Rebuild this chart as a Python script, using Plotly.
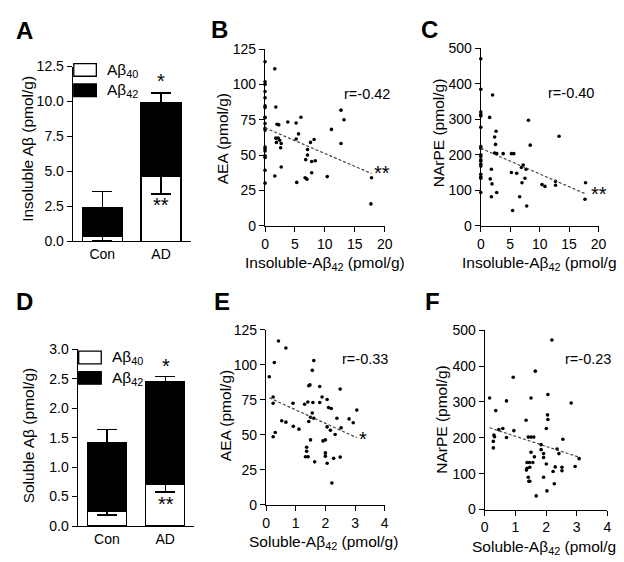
import plotly.graph_objects as go

W, H = 624, 562
FONT = "Liberation Sans, Arial, sans-serif"

# ---------------- data ----------------
groups = ["Con", "AD"]
# Panel A: insoluble Abeta (stacked segments, pmol/g)
insol_ab40 = [0.35, 4.68]
insol_ab40_err = [0.28, 1.30]
insol_ab42 = [2.03, 5.22]
insol_ab42_err = [1.18, 0.70]
# Panel D: soluble Abeta
sol_ab40 = [0.25, 0.70]
sol_ab40_err = [0.06, 0.12]
sol_ab42 = [1.16, 1.75]
sol_ab42_err = [0.23, 0.09]

# Panel B: AEA vs insoluble Abeta42
B_x = [0]*19 + [1.63, 1.8, 2.0, 2.3, 1.8, 2.2, 2.45, 1.9, 2.7, 2.6, 2.7, 1.63, 3.8, 5.2, 6.0, 5.2, 5.6,
                7.6, 8.2, 7.1, 7.1, 6.8, 7.8, 8.4, 7.8, 6.7, 7.0, 5.3, 10.4, 11.1, 12.7, 13.2, 12.7, 17.8, 17.7]
B_y = [116, 101.8, 100, 95, 90.5, 84.8, 83.6, 76.8, 76.4, 72.3, 68.9, 67.7, 55.7, 54.5, 53, 49.5, 48.4, 39.3, 30.2,
       111, 84, 71.8, 71.4, 62, 62, 60.5, 59, 58.2, 55.2, 41.6, 35.2, 73.4, 72.7, 76.8, 61.4, 65,
       59, 61, 54, 50, 46.8, 45.5, 46, 37.5, 34, 33, 30.7, 34.8, 68.2, 81.8, 75, 58.2, 34, 15.5]
B_trend_x = [0, 17.8]
B_trend_y = [69.3, 37.0]

# Panel C: NArPE vs insoluble Abeta42
C_x = [0]*18 + [2.0, 1.5, 2.6, 2.35, 2.5, 2.35, 2.7, 3.8, 5.2, 5.6, 1.8, 1.6, 1.9, 2.7, 1.8, 8.1, 8.4, 13.3,
                5.2, 6.1, 7.2, 6.9, 7.7, 7.5, 7.0, 6.6, 5.4, 7.8, 10.4, 10.9, 12.7, 12.7, 17.8, 17.7]
C_y = [470, 384, 320, 313, 309, 277, 223, 218, 200, 195, 186, 182, 173, 168, 145, 138, 134, 94,
       368, 305, 266, 250, 229, 205, 203, 203, 203, 203, 159, 132, 118, 94, 82, 297, 227, 252,
       150, 148, 171, 164, 159, 134, 121, 82, 43, 56, 116, 111, 125, 114, 121, 75]
C_trend_x = [0, 17.65]
C_trend_y = [218, 91]

# Panel E: AEA vs soluble Abeta42
E_x = [0.42, 0.67, 0.28, 0.11, 0.24, 0.24, 0.53, 0.67, 0.91, 0.92, 1.11, 0.31, 0.24, 1.61, 1.56, 1.44, 1.48,
       1.30, 1.41, 1.58, 1.56, 1.50, 1.61, 1.44, 1.81, 1.89, 1.81, 2.06, 2.11, 2.20, 2.50, 2.39, 2.53, 2.06,
       2.17, 2.33, 3.06, 2.80, 2.94, 1.50, 1.92, 2.00, 1.37, 1.37, 1.33, 1.42, 2.00, 2.00, 1.64, 2.06, 2.28,
       2.50, 2.22]
E_y = [117, 112, 101.6, 91.4, 77, 72.5, 60, 59, 72.5, 56, 54, 51.6, 48.6, 103, 96, 85, 85.6,
       71.8, 73.4, 73, 65.5, 62.5, 61.8, 59.5, 84.5, 77, 73, 75.2, 69.4, 68.7, 82.6, 61.8, 54.9, 55.6,
       53.2, 50.2, 67.6, 61.3, 58.6, 46.3, 45.6, 46.3, 41, 38.2, 34.3, 34.3, 37, 34.7, 30.6, 29.6, 33.1,
       34, 15.5]
E_trend_x = [0.11, 3.06]
E_trend_y = [76.4, 47.9]

# Panel F: NArPE vs soluble Abeta42
F_x = [2.19, 1.65, 0.93, 0.16, 0.71, 1.51, 2.06, 2.82, 0.36, 2.05, 2.06, 1.35, 2.01, 0.46, 0.59, 0.95,
       0.30, 0.32, 0.28, 0.28, 0.71, 1.42, 1.51, 1.60, 2.55, 1.84, 1.84, 2.36, 2.42, 1.51, 1.92, 1.92,
       1.62, 1.46, 1.57, 1.38, 1.38, 1.47, 1.36, 2.01, 2.30, 2.23, 2.52, 2.52, 2.95, 3.08, 1.42, 1.44,
       1.47, 1.92, 2.27, 2.03, 1.68]
F_y = [473, 386, 369, 311, 303, 311, 321, 297, 276, 264, 251, 249, 226, 223, 226, 220,
       208, 203, 190, 172, 201, 202, 202, 202, 196, 181, 167, 169, 156, 160, 156, 145,
       147, 131, 131, 131, 115, 118, 110, 127, 119, 106, 118, 108, 120, 142, 90, 79,
       79, 90, 72, 52, 38]
F_trend_x = [0.16, 3.08]
F_trend_y = [228, 146]

# ---------------- helpers ----------------
def dx(a, b):
    return [a / W, b / W]

def dy(top, bottom):
    return [1 - bottom / H, 1 - top / H]

def px(x):
    return x / W

def py(y):
    return 1 - y / H

axis_common = dict(showline=True, linecolor="black", linewidth=1.3, ticks="outside", ticklen=5,
                   tickwidth=1.3, tickcolor="black", showgrid=False, zeroline=False,
                   tickfont=dict(family=FONT, size=14, color="black"), fixedrange=True)

fig = go.Figure()

bar_line = dict(color="black", width=1.3)

def add_bars(ab40, ab40_err, ab42, ab42_err, xa, ya, wid):
    fig.add_trace(go.Bar(x=groups, y=ab40, name="Aβ40", marker=dict(color="white", line=bar_line),
                         width=wid, xaxis=xa, yaxis=ya, showlegend=False,
                         error_y=dict(type="data", symmetric=False, array=[0, 0], arrayminus=ab40_err,
                                      color="black", thickness=1.3, width=10)))
    fig.add_trace(go.Bar(x=groups, y=ab42, name="Aβ42", marker=dict(color="black", line=bar_line),
                         width=wid, xaxis=xa, yaxis=ya, showlegend=False,
                         error_y=dict(type="data", symmetric=False, array=ab42_err, arrayminus=[0, 0],
                                      color="black", thickness=1.3, width=10)))

add_bars(insol_ab40, insol_ab40_err, insol_ab42, insol_ab42_err, "x", "y", 0.68)
add_bars(sol_ab40, sol_ab40_err, sol_ab42, sol_ab42_err, "x4", "y4", 0.67)

def add_scatter(xs, ys, tx, ty, xa, ya):
    fig.add_trace(go.Scatter(x=xs, y=ys, mode="markers", xaxis=xa, yaxis=ya, showlegend=False,
                             cliponaxis=False, marker=dict(color="black", size=3.6)))
    fig.add_trace(go.Scatter(x=tx, y=ty, mode="lines", xaxis=xa, yaxis=ya, showlegend=False,
                             cliponaxis=False, line=dict(color="#444", width=1.2, dash="3px,2px")))

add_scatter(B_x, B_y, B_trend_x, B_trend_y, "x2", "y2")
add_scatter(C_x, C_y, C_trend_x, C_trend_y, "x3", "y3")
add_scatter(E_x, E_y, E_trend_x, E_trend_y, "x5", "y5")
add_scatter(F_x, F_y, F_trend_x, F_trend_y, "x6", "y6")

cat_axis = dict(axis_common, ticks="", type="category", range=[-0.5, 1.5])

fig.update_layout(
    width=W, height=H, margin=dict(l=0, r=0, t=0, b=0),
    paper_bgcolor="white", plot_bgcolor="white", barmode="stack",
    font=dict(family=FONT, color="black"),
    xaxis=dict(cat_axis, domain=dx(62, 182), anchor="y"),
    yaxis=dict(axis_common, domain=dy(52, 232), anchor="x", range=[0, 12.5], dtick=2.5, tickformat=".1f"),
    xaxis2=dict(axis_common, domain=dx(258, 380), anchor="y2", range=[0, 20], dtick=5),
    yaxis2=dict(axis_common, domain=dy(34, 216), anchor="x2", range=[0, 125], dtick=25),
    xaxis3=dict(axis_common, domain=dx(478, 598), anchor="y3", range=[0, 20], dtick=5),
    yaxis3=dict(axis_common, domain=dy(33, 216), anchor="x3", range=[0, 500], dtick=100),
    xaxis4=dict(cat_axis, domain=dx(67, 186), anchor="y4"),
    yaxis4=dict(axis_common, domain=dy(343, 525), anchor="x4", range=[0, 3.0], dtick=0.5, tickformat=".1f"),
    xaxis5=dict(axis_common, domain=dx(259, 380), anchor="y5", range=[0, 4], dtick=1),
    yaxis5=dict(axis_common, domain=dy(323, 503), anchor="x5", range=[0, 125], dtick=25),
    xaxis6=dict(axis_common, domain=dx(482, 607), anchor="y6", range=[0, 4], dtick=1),
    yaxis6=dict(axis_common, domain=dy(323.5, 508), anchor="x6", range=[0, 500], dtick=100),
)

ann = []
def text(x, y, s, size=15.5, angle=0, xanchor="center"):
    ann.append(dict(x=px(x), y=py(y), xref="paper", yref="paper", text=s, showarrow=False,
                    textangle=angle, xanchor=xanchor, yanchor="middle",
                    font=dict(family=FONT, size=size, color="black")))

# panel letters
for letter, (lx, ly) in {"A": (13, 15), "B": (212, 14), "C": (426, 14),
                         "D": (13, 294), "E": (214, 294), "F": (429, 294)}.items():
    text(lx, ly, "<b>%s</b>" % letter, size=24)

# y axis titles
text(15, 137, "Insoluble Aβ (pmol/g)", angle=-90)
text(215, 126, "AEA (pmol/g)", angle=-90)
text(435, 120, "NArPE (pmol/g)", angle=-90)
text(17, 432, "Soluble Aβ (pmol/g)", angle=-90)
text(217, 411, "AEA (pmol/g)", angle=-90)
text(438, 415, "NArPE (pmol/g)", angle=-90)

# x axis titles
text(319, 255, "Insoluble-Aβ<sub>42</sub> (pmol/g)")
text(540, 255, "Insoluble-Aβ<sub>42</sub> (pmol/g)")
text(318, 542, "Soluble-Aβ<sub>42</sub> (pmol/g)")
text(545, 547, "Soluble-Aβ<sub>42</sub> (pmol/g)")

# correlation labels
text(362, 80, "r=-0.42", size=14.5)
text(570, 79, "r=-0.40", size=14.5)
text(360, 353, "r=-0.33", size=14.5)
text(587, 353, "r=-0.23", size=14.5)

# significance marks
text(152, 67, "*", size=20)
text(152, 195, "**", size=20)
text(157, 360, "*", size=20)
text(157, 502, "**", size=20)
text(377, 162, "**", size=20)
text(598, 183, "**", size=20)
text(358, 435, "*", size=20)

# legends
for (x0, y0, lx) in [(63, 49, 95), (68, 345, 100)]:
    text(lx, y0 + 7, "Aβ<sub>40</sub>", size=15.5, xanchor="left")
    text(lx, y0 + 28, "Aβ<sub>42</sub>", size=15.5, xanchor="left")

shapes = []
for (x0, y0) in [(63, 49), (68, 345)]:
    shapes.append(dict(type="rect", xref="paper", yref="paper", x0=px(x0), x1=px(x0 + 23),
                       y0=py(y0), y1=py(y0 + 13), fillcolor="white", line=dict(color="black", width=1.3)))
    shapes.append(dict(type="rect", xref="paper", yref="paper", x0=px(x0), x1=px(x0 + 23),
                       y0=py(y0 + 21), y1=py(y0 + 34), fillcolor="black", line=dict(color="black", width=1.3)))

fig.update_layout(annotations=ann, shapes=shapes)
fig.write_html("out.html")
